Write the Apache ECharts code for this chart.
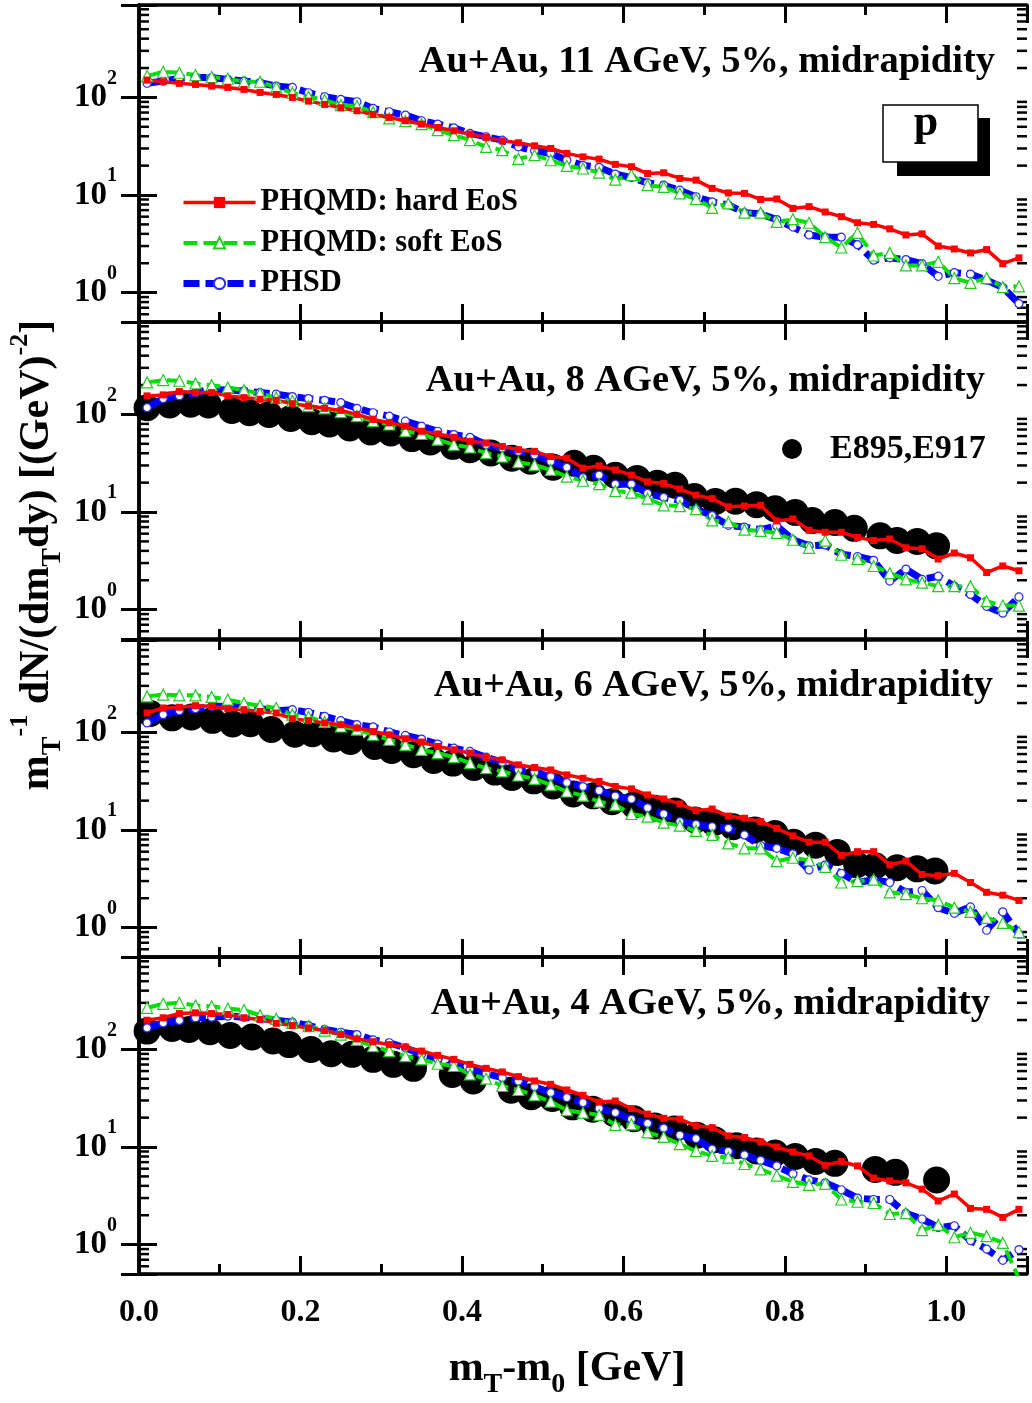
<!DOCTYPE html>
<html>
<head>
<meta charset="utf-8">
<title>Au+Au proton mT spectra</title>
<script src="https://cdn.jsdelivr.net/npm/echarts@6/dist/echarts.min.js"></script>
<style>
  html, body { margin: 0; padding: 0; background: #fff; }
  #chart { width: 1032px; height: 1403px; }
</style>
</head>
<body>
<div id="chart"></div>
<script>
// model curves are sampled every 0.02 GeV
const xModel = [0.01,0.03,0.05,0.07,0.09,0.11,0.13,0.15,0.17,0.19,0.21,0.23,0.25,0.27,0.29,0.31,0.33,0.35,0.37,0.39,
  0.41,0.43,0.45,0.47,0.49,0.51,0.53,0.55,0.57,0.59,0.61,0.63,0.65,0.67,0.69,0.71,0.73,0.75,0.77,0.79,
  0.81,0.83,0.85,0.87,0.89,0.91,0.93,0.95,0.97,0.99,1.01,1.03,1.05,1.07,1.09];

// 11 AGeV
const hard11 = [150.6,144.8,139.3,135.9,130.7,126.6,120.8,112.5,107.3,100,91.7,84.8,78.4,73.0,66.9,62.4,57.7,53.3,49.2,45.5,
  42.1,38.9,35.9,34.3,31.9,30.0,26.7,24.6,23.3,20.6,19.5,16.6,16.9,14.8,14.2,11.7,10.5,10.4,9.0,9.1,
  7.3,7.6,6.7,6.0,5.2,5.0,4.5,3.9,4.0,3.0,2.8,2.55,2.76,1.98,2.27];
const soft11 = [165.5,183.3,179.0,169.4,161.7,155.4,144.8,144.8,126.6,111.7,101.6,93.9,83.4,81.5,70.7,60.9,57.2,53.3,46.2,41.1,
  36.5,31.2,28.8,23.5,25.6,22.7,19.9,18.7,17.0,14.4,16.0,12.6,12.1,10.4,9.1,7.4,8.2,6.6,6.6,5.3,
  5.65,5.2,3.7,2.9,4.1,2.4,2.55,1.9,1.9,2.07,1.41,1.26,1.41,1.14,1.16];
const phsd11 = [139.3,147.2,156.7,160.4,159.2,153.1,147.2,141.4,130.7,126.6,111.7,101.6,95.4,90.3,77.2,71.3,65.9,57.7,53.3,48.8,
  42.8,39.5,36.5,31.2,28.4,26.7,22.7,20.1,19.2,16.4,15.1,13.3,12.6,11.2,9.6,8.5,7.9,6.6,6.4,5.6,
  4.7,3.9,3.7,3.7,3.1,2.15,2.27,2.18,1.98,1.47,1.6,1.55,1.34,1.13,0.77];

// 8 AGeV
const hard8 = [154.8,158.5,171.5,167.4,167.4,154.8,148.7,142.9,139.6,128.9,121.9,115.4,110.0,100,88.8,82.0,75.7,67.2,63.1,58.3,
  53.0,51,47,43.5,41.8,37,35.6,28.1,29.7,27.0,23.9,20.4,19.6,17.2,14.9,13.7,11.3,11.5,11.7,8.1,
  8.5,6.5,6.2,6.2,5.5,5.1,5.3,4.3,4.2,3.3,3.8,3.4,2.4,2.8,2.5];
const soft8 = [212.9,224.9,221.3,207.6,199.5,188.7,177.1,163.6,148.7,137.3,121.9,115.4,105.7,96.1,85.3,78.8,67.2,63,55.1,48.9,
  45.9,40.1,37.0,32.4,30.4,27.0,23.0,20.9,19.3,16.4,15.8,13.7,11.7,11.5,10.7,8.2,7.9,6.6,6.4,6.1,
  5.2,4.3,5.1,3.65,3.3,2.8,2.36,2.04,1.89,1.74,1.74,1.74,1.22,1.10,1.10];
const phsd8 = [117.2,145.2,154.8,167.4,181.5,177.1,174.2,167.4,161.1,152.4,145.2,139.6,132.1,115.4,104.0,96.1,85.3,75.7,67.2,62.1,
  58.3,48.9,45.2,41.8,38.6,32.9,28.7,22.5,23.9,19.3,19.3,15.5,14.1,13.2,10.7,9.2,7.3,7.0,6.6,7.2,
  5.2,4.5,4.6,3.7,3.5,3.2,1.96,2.6,2.04,2.2,1.74,1.43,1.08,0.92,1.35];
const exp8X = [0.010,0.038,0.064,0.086,0.115,0.137,0.161,0.188,0.214,0.236,0.261,0.287,0.312,0.338,0.361,0.389,0.410,0.436,0.462,0.485,
  0.513,0.539,0.563,0.590,0.617,0.642,0.664,0.688,0.714,0.739,0.765,0.788,0.813,0.834,0.862,0.886,0.918,0.939,0.964,0.988];
const exp8Y = [117,125,127,125,110,104,100,91,84,80,72.8,66.2,64.6,56.5,52.2,47.1,43.4,40.2,35.6,33.2,
  28.8,31.6,28.1,23.8,22.1,19.7,18.8,14.4,12.8,12.9,11.9,10.8,9.9,8.2,7.8,6.8,5.7,5.1,5.0,4.5];

// 6 AGeV
const hard6 = [158,178,181,188,185,175,171,164,158,138,132,125,120,111,102,94.6,86.1,79.6,71.8,66.4,
  61.4,55.4,52.4,46.5,43.7,41.3,36.7,33.9,31.4,27.9,26.4,22.9,20.8,18.5,15.8,16.4,13.9,13.2,12.2,10.4,
  8.7,7.5,7.5,5.5,6.0,6.0,4.4,4.8,3.5,3.4,3.6,2.9,2.3,2.15,1.9];
const soft6 = [234,244,240,240,231,217,200,188,178,152,144,128,115,107,94.6,84.1,74.7,66.4,61.4,55.8,
  48.4,43.0,39.8,36.2,33.4,29.0,24.8,22.5,19.5,18.1,14.6,13.7,11.9,11.1,9.8,8.9,7.3,6.5,6.5,4.8,
  5.2,4.9,4.2,2.9,3.0,3.1,2.3,2.2,2.0,1.9,1.6,1.45,1.26,1.12,0.90];
const phsd6 = [125,152,167,175,185,185,181,175,167,171,160,146,132,120,114,101,93.1,85.5,75.9,69.0,
  63.8,55.8,49.6,41.3,39.1,35.3,30.6,27.9,25.4,22.3,20.8,16.9,14.6,12.2,11.4,10.8,10.4,8.9,6.9,6.5,
  5.7,3.9,4.4,3.6,2.9,3.1,2.9,2.3,2.4,1.6,1.4,1.63,0.94,1.45,0.86];
const exp6X = [0.014,0.041,0.065,0.091,0.116,0.138,0.164,0.193,0.215,0.241,0.262,0.292,0.313,0.340,0.365,0.389,0.415,0.441,0.462,0.489,
  0.513,0.538,0.563,0.586,0.613,0.639,0.664,0.689,0.712,0.736,0.763,0.788,0.811,0.838,0.865,0.889,0.912,0.939,0.964,0.986];
const exp6Y = [156,141,144,133,122,123,107,96,97,85.5,80.9,71.8,65.3,59.0,51.6,48.5,43.7,39.2,34.5,31.9,
  28.3,23.4,22.4,19.5,18.1,16.7,15.7,12.7,11.9,10.8,10.0,9.2,7.5,7.0,5.9,4.4,4.3,4.1,4.0,3.8];

// 4 AGeV
const hard4 = [199,211,233,237,233,228,211,203,185,176,166,156,142,128,120,112,106,96.2,86.9,79.1,
  70.3,64.0,58.7,52.6,47.5,43.9,38.4,33.9,28.9,29.6,24.8,21.7,19.7,19.3,16.5,15.8,13.0,12.5,11.3,10.0,
  8.9,8.1,6.5,7.1,6.4,4.8,4.5,4.3,3.7,2.8,3.3,2.35,2.3,1.9,2.3];
const soft4 = [267,293,300,282,277,262,253,224,206,187,173,156,142,125,108,96.2,85.5,79.1,71.3,67.6,
  55.5,50.1,42.2,38.4,33.9,29.2,23.8,22.5,21.3,16.9,17.1,14.1,12.7,10.7,9.1,8.1,7.8,6.7,5.9,5.1,
  4.4,4.1,4.2,2.9,2.75,2.67,2.06,2.1,1.41,1.59,1.19,1.32,1.22,1.04,0.45];
const phsd4 = [166,187,198,211,214,219,214,207,199,190,176,160,150,142,125,117,104,89,80,71,
  63,56.5,51.3,47.5,41.5,36.1,32.1,28.5,24.8,22.5,19.3,17.5,15.6,13.2,12.2,9.5,9.0,8.3,7.3,6.4,
  5.3,4.6,4.3,3.65,3.0,2.9,2.9,2.1,1.83,1.5,1.56,1.1,0.90,0.69,0.89];
const exp4X = [0.010,0.041,0.062,0.088,0.113,0.140,0.166,0.186,0.213,0.238,0.264,0.290,0.315,0.340,0.388,0.414,0.461,0.486,0.512,0.537,
  0.562,0.589,0.613,0.639,0.663,0.691,0.713,0.740,0.765,0.788,0.813,0.838,0.862,0.912,0.937,0.988];
const exp4Y = [154,164,160,152,139,134,122,112,100,90.4,89.0,79.1,70.3,64.0,55.5,47.4,38.1,32.7,31.5,25.8,
  24.4,21.9,19.5,16.4,15.3,13.2,11.9,10.3,9.1,8.7,8.0,7.1,6.8,5.9,5.5,4.6];

const panelTitles = ['Au+Au, 11 AGeV, 5%, midrapidity', 'Au+Au, 8 AGeV, 5%, midrapidity',
  'Au+Au, 6 AGeV, 5%, midrapidity', 'Au+Au, 4 AGeV, 5%, midrapidity'];
const seriesNames = ['PHQMD: hard EoS', 'PHQMD: soft EoS', 'PHSD', 'E895,E917'];
const yMinorTicks = [0.5,0.6,0.7,0.8,0.9,2,3,4,5,6,7,8,9,20,30,40,50,60,70,80,90,200,300,400,500,600,700,800];

const panels = [
  { hard: hard11, soft: soft11, phsd: phsd11, expX: null, expY: null },
  { hard: hard8, soft: soft8, phsd: phsd8, expX: exp8X, expY: exp8Y },
  { hard: hard6, soft: soft6, phsd: phsd6, expX: exp6X, expY: exp6Y },
  { hard: hard4, soft: soft4, phsd: phsd4, expX: exp4X, expY: exp4Y }
];

const FONT = '"Liberation Serif", "Times New Roman", serif';
const X_MIN = 0, X_MAX = 1.1, Y_MIN = 0.5, Y_MAX = 885;
const gridTops = [5, 322, 640, 957];
const GRID_H = 317;

const zip = (xs, ys) => xs.map((x, i) => [x, ys[i]]);

const grids = [], xAxes = [], yAxes = [], series = [];

function xAxisFor(i, pos) {
  const bottomLabels = pos === 'bottom' && i === panels.length - 1;
  return {
    type: 'value', gridIndex: i, position: pos, min: X_MIN, max: X_MAX, interval: 0.2,
    axisLine: { lineStyle: { color: '#000', width: 3.5 } },
    axisTick: { inside: true, length: 18, lineStyle: { color: '#000', width: 3 } },
    minorTick: { show: true, splitNumber: 2, length: 10, lineStyle: { color: '#000', width: 3 } },
    splitLine: { show: false },
    axisLabel: {
      show: bottomLabels, margin: 23, color: '#000',
      fontFamily: FONT, fontWeight: 'bold', fontSize: 32,
      formatter: v => (Math.abs(v * 5 - Math.round(v * 5)) < 1e-6 ? v.toFixed(1) : '')
    }
  };
}

function yAxisFor(i, pos) {
  return {
    type: 'log', logBase: 10, gridIndex: i, position: pos, min: Y_MIN, max: Y_MAX,
    axisLine: { lineStyle: { color: '#000', width: 3.5 } },
    axisTick: { inside: true, length: 18, lineStyle: { color: '#000', width: 3 } },
    splitLine: { show: false },
    axisLabel: {
      show: pos === 'left', margin: 22, color: '#000',
      formatter: v => {
        const lg = Math.log10(v);
        const e = Math.round(lg);
        if (Math.abs(lg - e) > 1e-6) return '';
        return '{b|10}{s|' + e + '}';
      },
      rich: {
        b: { fontFamily: FONT, fontWeight: 'bold', fontSize: 33, lineHeight: 58, verticalAlign: 'middle', color: '#000' },
        s: { fontFamily: FONT, fontWeight: 'bold', fontSize: 20, lineHeight: 20, verticalAlign: 'top', color: '#000' }
      }
    }
  };
}

// short ticks at 2..9 of every decade, placed through the axis scale
function renderMinorTicks(params, api) {
  const v = api.value(1);
  const l = api.coord([X_MIN, v]);
  const r = api.coord([X_MAX, v]);
  const st = { stroke: '#000', lineWidth: 2.5 };
  return {
    type: 'group',
    children: [
      { type: 'line', shape: { x1: l[0], y1: l[1], x2: l[0] + 10, y2: l[1] }, style: st },
      { type: 'line', shape: { x1: r[0] - 10, y1: r[1], x2: r[0], y2: r[1] }, style: st }
    ]
  };
}

panels.forEach((p, i) => {
  grids.push({ left: 139, right: 5, top: gridTops[i], height: GRID_H });
  xAxes.push(xAxisFor(i, 'bottom'), xAxisFor(i, 'top'));
  yAxes.push(yAxisFor(i, 'left'), yAxisFor(i, 'right'));
  const ax = { xAxisIndex: 2 * i, yAxisIndex: 2 * i };

  series.push(Object.assign({
    type: 'custom', silent: true, clip: false,
    data: yMinorTicks.map(v => [X_MIN, v]),
    renderItem: renderMinorTicks
  }, ax));

  if (p.expX) {
    series.push(Object.assign({
      name: seriesNames[3], type: 'scatter', symbol: 'circle', symbolSize: 27,
      itemStyle: { color: '#000', opacity: 1 }, data: zip(p.expX, p.expY)
    }, ax));
  }
  series.push(Object.assign({
    name: seriesNames[2], type: 'line', symbol: 'circle', symbolSize: 8,
    lineStyle: { color: '#0000ff', width: 7, type: [16, 6] },
    itemStyle: { color: '#fff', borderColor: '#2a2aff', borderWidth: 1.2 },
    data: zip(xModel, p.phsd)
  }, ax));
  series.push(Object.assign({
    name: seriesNames[1], type: 'line', symbol: 'triangle', symbolSize: 11,
    lineStyle: { color: '#00e000', width: 4, type: [14, 6] },
    itemStyle: { color: '#fff', borderColor: '#22cc22', borderWidth: 1.2 },
    data: zip(xModel, p.soft)
  }, ax));
  series.push(Object.assign({
    name: seriesNames[0], type: 'line', symbol: 'rect', symbolSize: 7,
    lineStyle: { color: '#ff0000', width: 3.5 },
    itemStyle: { color: '#ff0000' },
    data: zip(xModel, p.hard)
  }, ax));
});

const titleY = [62, 381, 686, 1004];
const titleRight = [995, 985, 993, 990];

const graphics = panelTitles.map((t, i) => ({
  type: 'text', x: titleRight[i], y: titleY[i], z: 50,
  style: {
    text: t, fill: '#000', font: 'bold 38.5px ' + FONT,
    align: 'right', verticalAlign: 'middle', textAlign: 'right', textVerticalAlign: 'middle'
  }
}));

// particle box "p" with drop shadow
graphics.push(
  { type: 'rect', z: 50, shape: { x: 897, y: 118, width: 93, height: 58 }, style: { fill: '#000' } },
  { type: 'rect', z: 51, shape: { x: 883, y: 105, width: 95, height: 57 }, style: { fill: '#fff', stroke: '#000', lineWidth: 1.5 } },
  { type: 'text', z: 52, x: 926, y: 124,
    style: { text: 'p', fill: '#000', font: 'bold 44px ' + FONT,
      align: 'center', verticalAlign: 'middle', textAlign: 'center', textVerticalAlign: 'middle' } }
);

const titleRich = {
  n: { fontFamily: FONT, fontWeight: 'bold', fontSize: 42, lineHeight: 60, verticalAlign: 'middle', color: '#000' },
  sub: { fontFamily: FONT, fontWeight: 'bold', fontSize: 28, lineHeight: 28, verticalAlign: 'bottom', color: '#000' },
  sup: { fontFamily: FONT, fontWeight: 'bold', fontSize: 26, lineHeight: 28, verticalAlign: 'top', color: '#000' }
};

graphics.push({
  type: 'text', z: 50, x: 567, y: 1369,
  style: {
    text: '{n|m}{sub|T}{n|-m}{sub|0}{n| [GeV]}', rich: titleRich,
    align: 'center', verticalAlign: 'middle', textAlign: 'center', textVerticalAlign: 'middle'
  }
});
graphics.push({
  type: 'text', z: 50, x: 37, y: 555, rotation: Math.PI / 2,
  style: {
    text: '{n|m}{sub|T}{sup|-1}{n| dN/(dm}{sub|T}{n|dy) [(GeV)}{sup|-2}{n|]}', rich: titleRich,
    align: 'center', verticalAlign: 'middle', textAlign: 'center', textVerticalAlign: 'middle'
  }
});

const legendText = { fontFamily: FONT, fontWeight: 'bold', fontSize: 30.5, lineHeight: 30, color: '#000' };

const option = {
  animation: false,
  backgroundColor: '#fff',
  grid: grids,
  xAxis: xAxes,
  yAxis: yAxes,
  legend: [
    {
      data: seriesNames.slice(0, 3), orient: 'vertical', left: 180, top: 187, padding: 0,
      itemWidth: 72, itemHeight: 14, itemGap: 9.5, selectedMode: false,
      lineStyle: { width: 'inherit' },
      textStyle: legendText
    },
    {
      data: [seriesNames[3]], left: 782, top: 432, padding: 0, icon: 'circle',
      itemWidth: 20, itemHeight: 20, selectedMode: false,
      textStyle: Object.assign({}, legendText, { fontSize: 34, lineHeight: 34, padding: [0, 0, 0, 23] })
    }
  ],
  graphic: graphics,
  series: series
};

const chart = echarts.init(document.getElementById('chart'));
chart.setOption(option);
</script>
</body>
</html>
